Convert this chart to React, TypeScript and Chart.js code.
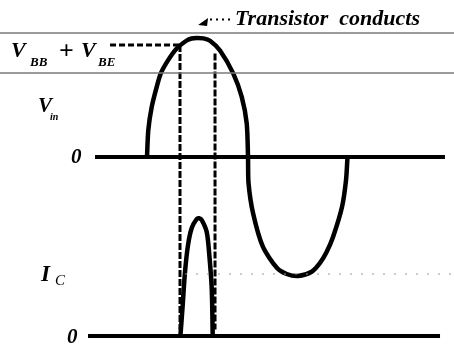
import React, { useEffect, useRef } from "react";
import { Chart, registerables } from "chart.js";

Chart.register(...registerables);

// Phase angle (degrees) of the input voltage samples
const vinAngles = [0, 2.3, 8.4, 17.3, 24.4, 37.4, 52.9, 70.8, 79.3, 88.6, 100.7, 112.3, 130.1, 153.8, 168.8, 177.7, 180,
  180.9, 188.9, 206.7, 231.7, 249, 269.1, 293.5, 308.3, 320.3, 331.5, 347.5, 354.7, 357.3];
// Input voltage V_in (normalised to peak)
const vinValues = [0, 0.226, 0.421, 0.589, 0.701, 0.812, 0.912, 0.979, 0.996, 1.0, 0.997, 0.977, 0.895, 0.701, 0.505, 0.281, 0,
  -0.218, -0.47, -0.756, -0.933, -0.983, -1.0, -0.964, -0.89, -0.796, -0.672, -0.42, -0.193, 0];

// Collector current pulse I_C (normalised to peak)
const icAngles = [59.5, 63.6, 67.7, 73.1, 79.7, 88.6, 92.7, 97.5, 106.4, 111, 115.3, 117.1];
const icValues = [0, 0.26, 0.538, 0.765, 0.908, 0.983, 0.99, 0.975, 0.874, 0.681, 0.403, 0];

// Conduction threshold V_BB + V_BE and the conduction window
const thresholdLevel = 0.941;
const conductionStart = 58.8;
const conductionEnd = 121.2;
const troughLevel = -0.983;
const guideLevels = [1.042, 0.706];

const X_MIN = -262.0;
const X_MAX = 547.1;

const labelPlugin = {
  id: "labels",
  afterDatasetsDraw(chart: any) {
    const { ctx, chartArea } = chart;
    const L = chartArea.left;
    const T = chartArea.top;
    const serif = "'Liberation Serif', 'DejaVu Serif', serif";
    const put = (text: string, font: string, x: number, y: number) => {
      ctx.font = font;
      ctx.fillText(text, L + x, T + y);
    };
    ctx.save();
    ctx.fillStyle = "#000";
    ctx.textBaseline = "alphabetic";
    ctx.textAlign = "left";

    put("Transistor  conducts", `bold italic 22px ${serif}`, 235, 25);

    put("V", `bold italic 22px ${serif}`, 11, 57);
    put("BB", `bold italic 13px ${serif}`, 30, 66);
    put("+", `bold 26px ${serif}`, 59, 59);
    put("V", `bold italic 22px ${serif}`, 81, 57);
    put("BE", `bold italic 13px ${serif}`, 98, 66);

    put("V", `bold italic 21px ${serif}`, 38, 112);
    put("in", `bold italic 10px ${serif}`, 50, 120);

    put("0", `bold italic 21px ${serif}`, 71, 163);

    put("I", `bold italic 23px ${serif}`, 41, 281);
    put("C", `italic 15px ${serif}`, 55, 285);

    put("0", `bold italic 21px ${serif}`, 67, 343);

    // arrow head pointing at the crest (tip placed through the scales)
    const tx = chart.scales.x.getPixelForValue(91);
    const ty = chart.scales.yV.getPixelForValue(1.11);
    ctx.beginPath();
    ctx.moveTo(tx, ty);
    ctx.lineTo(tx + 10, ty - 7);
    ctx.lineTo(tx + 9, ty + 1);
    ctx.closePath();
    ctx.fill();

    ctx.restore();
  },
};

export default function App() {
  const ref = useRef<HTMLCanvasElement | null>(null);

  useEffect(() => {
    if (!ref.current) return;
    const pts = (xs: number[], ys: number[]) => xs.map((x, i) => ({ x, y: ys[i] }));
    const line = (extra: any) => ({
      type: "line",
      pointRadius: 0,
      fill: false,
      borderColor: "#000",
      borderWidth: 4,
      tension: 0,
      ...extra,
    });

    const datasets: any[] = [
      ...guideLevels.map((lv) =>
        line({
          data: [{ x: X_MIN, y: lv }, { x: X_MAX, y: lv }],
          yAxisID: "yV",
          borderColor: "#7a7a7a",
          borderWidth: 1.5,
        })
      ),
      line({
        data: [{ x: 67.7, y: troughLevel }, { x: X_MAX, y: troughLevel }],
        yAxisID: "yV",
        borderColor: "#9a9a9a",
        borderWidth: 1.2,
        borderDash: [2, 9],
      }),
      line({
        data: [{ x: -92.7, y: 0 }, { x: 531, y: 0 }],
        yAxisID: "yV",
        borderWidth: 4,
      }),
      line({
        data: [{ x: -105.2, y: 0 }, { x: 522.2, y: 0 }],
        yAxisID: "yI",
        borderWidth: 4,
      }),
      line({
        data: [{ x: -65.9, y: thresholdLevel }, { x: conductionStart, y: thresholdLevel }],
        yAxisID: "yV",
        borderWidth: 3,
        borderDash: [6, 3],
      }),
      line({
        data: [{ x: conductionStart, y: thresholdLevel }, { x: conductionStart, y: -1.45 }],
        yAxisID: "yV",
        borderWidth: 3,
        borderDash: [7, 2],
      }),
      line({
        data: [{ x: conductionEnd, y: 0.87 }, { x: conductionEnd, y: -1.45 }],
        yAxisID: "yV",
        borderWidth: 3,
        borderDash: [7, 2],
      }),
      line({
        data: pts(vinAngles, vinValues),
        yAxisID: "yV",
        borderWidth: 4.5,
        tension: 0.25,
      }),
      line({
        data: pts(icAngles, icValues),
        yAxisID: "yI",
        borderWidth: 4.5,
        tension: 0.3,
      }),
      // dotted leader to "Transistor conducts"
      line({
        data: [{ x: 112.3, y: 1.155 }, { x: 151.5, y: 1.155 }],
        yAxisID: "yV",
        borderWidth: 2,
        borderDash: [2, 4],
      }),
    ];

    const chart = new Chart(ref.current, {
      type: "line",
      data: { datasets },
      options: {
        animation: false,
        responsive: false,
        maintainAspectRatio: false,
        layout: { padding: 0, autoPadding: false },
        events: [],
        plugins: { legend: { display: false }, tooltip: { enabled: false } },
        scales: {
          x: { type: "linear", min: X_MIN, max: X_MAX, display: false },
          yV: { type: "linear", min: -1.6134, max: 1.3193, display: false },
          yI: { type: "linear", min: -0.1092, max: 2.8235, display: false },
        },
      },
      plugins: [labelPlugin],
    } as any);
    return () => chart.destroy();
  }, []);

  return (
    <div style={{ position: "absolute", left: 0, top: 0, width: 454, height: 349, background: "#fff" }}>
      <canvas ref={ref} width={454} height={349} style={{ display: "block", width: 454, height: 349 }} />
    </div>
  );
}
